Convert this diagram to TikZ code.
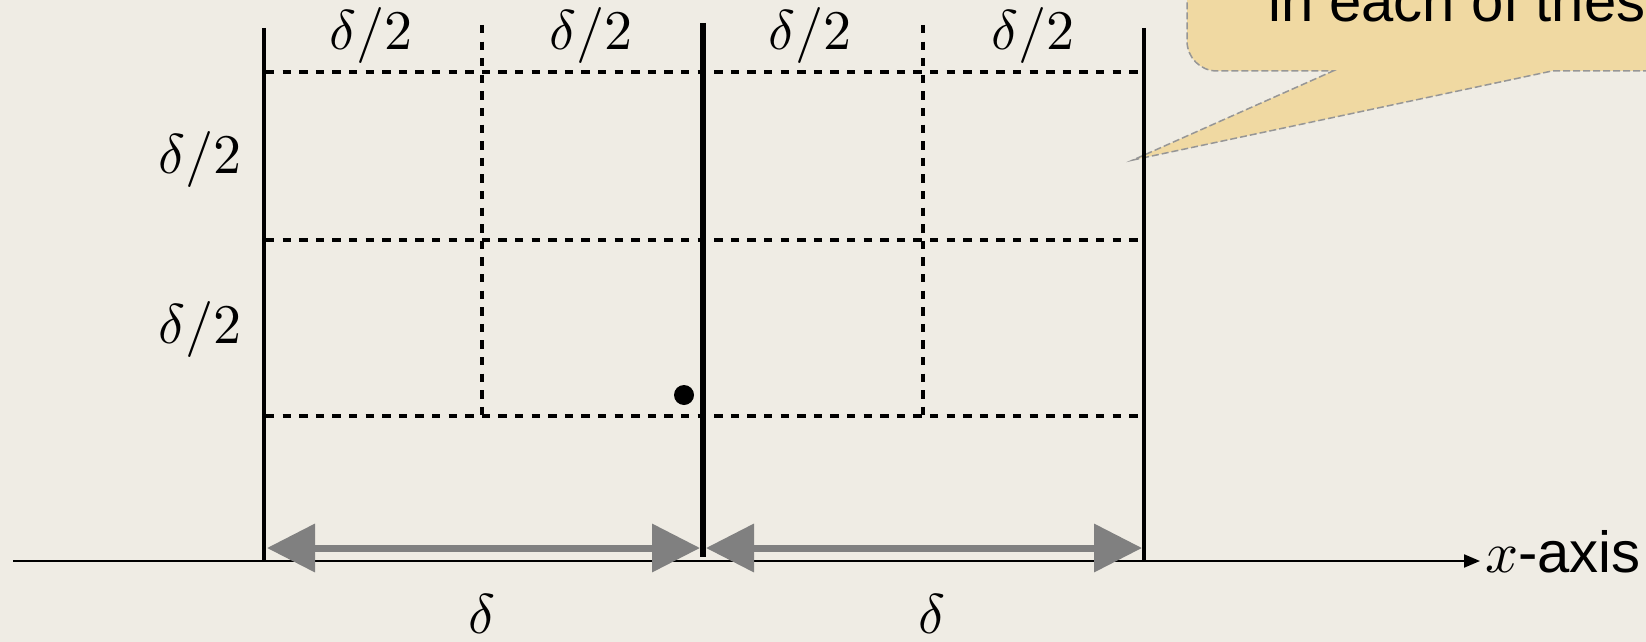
\documentclass[tikz,border=0pt]{standalone}
\usepackage{fontspec}
\setmainfont{Liberation Sans}
\usepackage{unicode-math}
\setmathfont{Latin Modern Math}
\usetikzlibrary{arrows.meta}
\definecolor{bg}{RGB}{239,236,228}
\definecolor{calloutfill}{RGB}{240,217,162}
\definecolor{calloutdraw}{RGB}{150,150,150}
\definecolor{arrowgray}{RGB}{128,128,128}
\begin{document}
\begin{tikzpicture}[x=1pt,y=-1pt,
  wall/.style={line width=4.5pt},
  midwall/.style={line width=6.5pt},
  gridline/.style={line width=3.5pt, dash pattern=on 8.3pt off 8.3pt},
  measure/.style={arrowgray, line width=7pt, {Triangle[length=48pt,width=47pt]}-{Triangle[length=48pt,width=47pt]}},
  axisline/.style={line width=2pt, -{Triangle[length=16pt,width=13pt]}},
  mathlabel/.style={font=\fontsize{56}{60}\selectfont, inner sep=0pt},
  callout/.style={fill=calloutfill, draw=calloutdraw, line width=1.5pt, dash pattern=on 7pt off 3pt},
]
\fill[bg] (0,0) rectangle (1646,642);
\useasboundingbox (0,0) rectangle (1646,642);
\clip (0,0) rectangle (1646,642);

% callout
\path[callout] (1700,71) -- (1552,71) -- (1133,160) -- (1333,71) -- (1217,71)
  .. controls (1200.4,71) and (1187,57.6) .. (1187,41) -- (1187,-60) -- (1700,-60) -- cycle;
\node[anchor=base west, inner sep=0pt, font=\fontsize{58}{62}\selectfont] (calltext) at (1268,22) {in each of thes};

% coordinates
\coordinate (Ltop) at (264,28);  \coordinate (Lbot) at (264,561);
\coordinate (Mtop) at (703,23);  \coordinate (Mbot) at (703,557);
\coordinate (Rtop) at (1144,28); \coordinate (Rbot) at (1144,561);
\coordinate (axstart) at (13,561); \coordinate (axend) at (1480,561);

% dashed grid
\coordinate (h1a) at (266,72);  \coordinate (h1b) at (1142,72);
\coordinate (h2a) at (266,240); \coordinate (h2b) at (1142,240);
\coordinate (h3a) at (266,416); \coordinate (h3b) at (1142,416);
\coordinate (v1a) at (482,25);  \coordinate (v1b) at (482,416);
\coordinate (v2a) at (923,25);  \coordinate (v2b) at (923,416);
\draw[gridline] (h1a) -- (h1b);
\draw[gridline] (h2a) -- (h2b);
\draw[gridline] (h3a) -- (h3b);
\draw[gridline] (v1a) -- (v1b);
\draw[gridline] (v2a) -- (v2b);

% solid verticals
\draw[wall] (Ltop) -- (Lbot);
\draw[midwall] (Mtop) -- (Mbot);
\draw[wall] (Rtop) -- (Rbot);

% axis
\draw[axisline] (axstart) -- (axend);

% measuring arrows
\coordinate (m1a) at (267,548); \coordinate (m1b) at (700,548);
\coordinate (m2a) at (706,548); \coordinate (m2b) at (1142,548);
\draw[measure] (m1a) -- (m1b);
\draw[measure] (m2a) -- (m2b);

% dot
\fill (684,395) circle[radius=10pt];

% labels
\node[mathlabel, anchor=base] (t1) at (371,50) {$\delta/2$};
\node[mathlabel, anchor=base] (t2) at (591,50) {$\delta/2$};
\node[mathlabel, anchor=base] (t3) at (810,50) {$\delta/2$};
\node[mathlabel, anchor=base] (t4) at (1033,50) {$\delta/2$};
\node[mathlabel, anchor=base] (l1) at (200,173) {$\delta/2$};
\node[mathlabel, anchor=base] (l2) at (200,343) {$\delta/2$};
\node[mathlabel, anchor=base] (b1) at (482,633) {$\delta$};
\node[mathlabel, anchor=base] (b2) at (932,633) {$\delta$};
\node[anchor=base west, inner sep=0pt, font=\fontsize{58}{62}\selectfont] (xlab) at (1485,572) {$x$-axis};
\end{tikzpicture}
\end{document}
